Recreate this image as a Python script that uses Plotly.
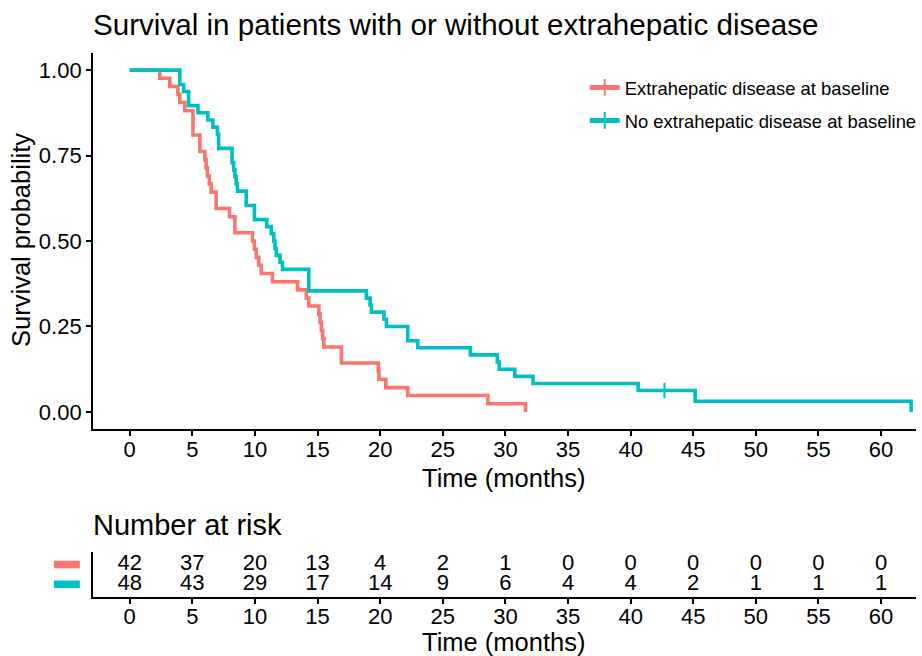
import plotly.graph_objects as go

# ---------------- data ----------------
red_name = "Extrahepatic disease at baseline"
teal_name = "No extrahepatic disease at baseline"

red_time = [0, 2.4, 3.2, 3.85, 4.0, 4.4, 5.05, 5.6, 6.0, 6.1, 6.2, 6.35, 6.5, 6.9, 7.97, 8.4,
            9.8, 9.95, 10.1, 10.3, 10.5, 11.4, 13.4, 14.1, 14.3, 15.1, 15.2, 15.3, 15.4, 15.5,
            16.9, 19.85, 19.9, 20.45, 22.2, 28.6, 31.6]
red_surv = [1.0, 0.976, 0.952, 0.929, 0.905, 0.881, 0.810, 0.762, 0.738, 0.714, 0.690, 0.667,
            0.643, 0.595, 0.571, 0.524, 0.500, 0.476, 0.452, 0.429, 0.405, 0.381, 0.357, 0.333,
            0.310, 0.286, 0.262, 0.238, 0.214, 0.190, 0.143, 0.119, 0.095, 0.071, 0.048, 0.024, 0.0]

teal_time = [0, 4.0, 4.3, 4.7, 5.45, 6.24, 6.64, 7.0, 7.1, 8.17, 8.3, 8.4, 8.5, 8.6, 9.3, 9.96,
             10.94, 11.3, 11.5, 11.6, 11.7, 12.0, 12.2, 14.3, 18.9, 19.2, 19.3, 20.3, 20.5, 22.2,
             23.0, 27.2, 29.35, 29.5, 30.75, 32.2, 40.6, 42.7, 45.15, 62.4]
teal_surv = [1.0, 0.958, 0.9375, 0.896, 0.875, 0.854, 0.833, 0.8125, 0.771, 0.729, 0.708, 0.688,
             0.667, 0.646, 0.604, 0.5625, 0.542, 0.521, 0.500, 0.479, 0.458, 0.438, 0.417, 0.354,
             0.333, 0.3125, 0.292, 0.271, 0.250, 0.208, 0.1875, 0.167, 0.146, 0.125, 0.104, 0.083,
             0.0625, 0.0625, 0.03125, 0.0]
teal_censor_time = [42.7]
teal_censor_surv = [0.0625]

risk_times = [0, 5, 10, 15, 20, 25, 30, 35, 40, 45, 50, 55, 60]
risk_red = [42, 37, 20, 13, 4, 2, 1, 0, 0, 0, 0, 0, 0]
risk_teal = [48, 43, 29, 17, 14, 9, 6, 4, 4, 2, 1, 1, 1]

y_ticks = [0, 0.25, 0.5, 0.75, 1.0]
y_ticklabels = ["0.00", "0.25", "0.50", "0.75", "1.00"]
x_ticks = list(range(0, 61, 5))

# ---------------- style ----------------
RED = "#F8766D"
TEAL = "#00BFC4"
FONT = "Liberation Sans, Arial, Helvetica, sans-serif"
W, H = 922, 656
LW = 3.6


def px_x(p):
    return p / W


def px_y(p):
    return 1 - p / H


fig = go.Figure()

# survival curves
for name, t, s, col, grp in [(red_name, red_time, red_surv, RED, "a"),
                             (teal_name, teal_time, teal_surv, TEAL, "b")]:
    fig.add_trace(go.Scatter(x=t, y=s, mode="lines", line=dict(color=col, width=LW, shape="hv"),
                             showlegend=False, legendgroup=grp, xaxis="x", yaxis="y",
                             hoverinfo="skip"))

fig.add_trace(go.Scatter(x=teal_censor_time, y=teal_censor_surv, mode="markers",
                         marker=dict(symbol="line-ns-open", size=11, color=TEAL,
                                     line=dict(color=TEAL, width=2)),
                         showlegend=False, legendgroup="b", xaxis="x", yaxis="y"))

# legend entries
for name, col, grp in [(red_name, RED, "a"), (teal_name, TEAL, "b")]:
    fig.add_trace(go.Scatter(x=[None], y=[None], mode="lines+markers", name=name,
                             line=dict(color=col, width=LW),
                             marker=dict(symbol="line-ns-open", size=11, color=col,
                                         line=dict(color=col, width=2)),
                             legendgroup=grp, showlegend=True, xaxis="x", yaxis="y"))

# risk table numbers
for row, vals in [(2, risk_red), (1, risk_teal)]:
    fig.add_trace(go.Scatter(x=risk_times, y=[row] * len(risk_times), mode="text",
                             text=[str(v) for v in vals], textposition="middle center",
                             textfont=dict(family=FONT, size=22, color="black"),
                             showlegend=False, xaxis="x2", yaxis="y2", cliponaxis=False))

axis_common = dict(showgrid=False, zeroline=False, showline=True, linecolor="black",
                   linewidth=1.5, ticks="outside", ticklen=5, tickwidth=1.5, tickcolor="black",
                   tickfont=dict(family=FONT, size=22, color="black"))

x_dom = [px_x(93), px_x(918)]
x_range = [-2.95, 62.79]

fig.update_layout(
    width=W, height=H,
    margin=dict(l=0, r=0, t=0, b=0),
    paper_bgcolor="white", plot_bgcolor="white",
    font=dict(family=FONT, color="black"),
    xaxis=dict(domain=x_dom, range=x_range, tickvals=x_ticks, anchor="y",
               ticklabelstandoff=-5, **axis_common),
    yaxis=dict(domain=[px_y(429), px_y(53)], range=[-0.05, 1.05], tickvals=y_ticks,
               ticktext=y_ticklabels, anchor="x", **axis_common),
    xaxis2=dict(domain=x_dom, range=x_range, tickvals=x_ticks, anchor="y2",
                ticklabelstandoff=-6, **axis_common),
    yaxis2=dict(domain=[px_y(597), px_y(552)], range=[0.36, 2.63], anchor="x2",
                showgrid=False, zeroline=False, showline=True, linecolor="black",
                linewidth=1.5, showticklabels=False, ticks=""),
    legend=dict(x=px_x(586), xanchor="left", y=px_y(69), yanchor="top",
                font=dict(family=FONT, size=18.4, color="black"), bgcolor="rgba(0,0,0,0)",
                traceorder="grouped", tracegroupgap=6, itemsizing="constant"),
    showlegend=True,
)

annotations = [
    dict(text="Survival in patients with or without extrahepatic disease", x=px_x(91),
         y=px_y(25), xanchor="left", yanchor="middle", font=dict(size=29.6)),
    dict(text="Survival probability", x=px_x(21), y=px_y(240), textangle=-90,
         xanchor="center", yanchor="middle", font=dict(size=25.5)),
    dict(text="Time (months)", x=px_x(505), y=px_y(478), xanchor="center", yanchor="middle",
         font=dict(size=25.5)),
    dict(text="Number at risk", x=px_x(91), y=px_y(525), xanchor="left", yanchor="middle",
         font=dict(size=29)),
    dict(text="Time (months)", x=px_x(505), y=px_y(642), xanchor="center", yanchor="middle",
         font=dict(size=25.5)),
]
for a in annotations:
    a.update(xref="paper", yref="paper", showarrow=False)
    a["font"].update(family=FONT, color="black")
fig.update_layout(annotations=annotations)

# coloured keys of the risk table rows
for row, col in [(2, RED), (1, TEAL)]:
    fig.add_shape(type="rect", xref="paper", yref="y2", x0=px_x(54), x1=px_x(80),
                  y0=row - 0.19, y1=row + 0.19, fillcolor=col, line=dict(width=0))

fig.write_html("out.html")
